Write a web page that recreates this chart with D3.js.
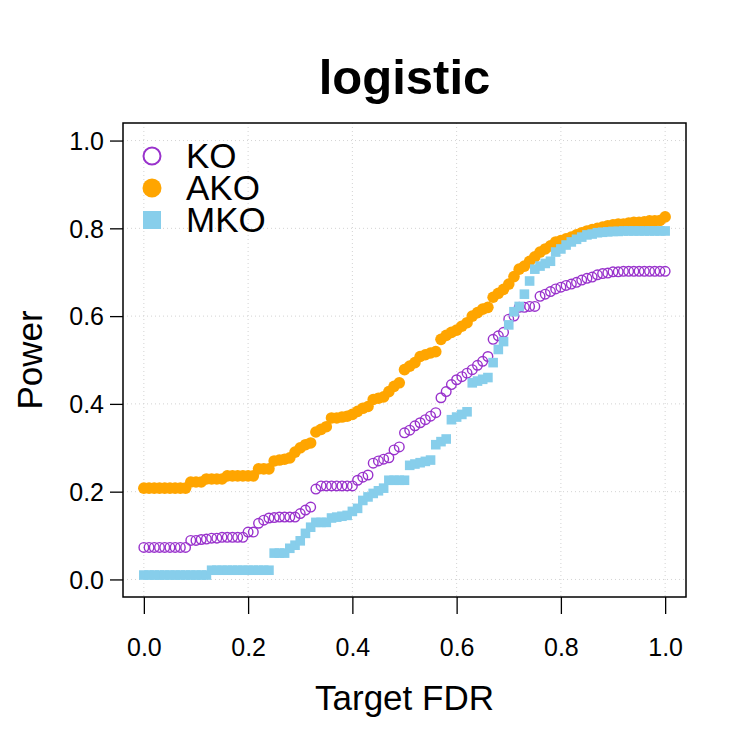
<!DOCTYPE html>
<html lang="en">
<head>
    <meta charset="UTF-8">
    <title>logistic</title>
    <script src="https://d3js.org/d3.v7.min.js"></script>
    <style>
        body{
            margin: 0;
            background-color: white;
        }
        text{
            font-family: "Liberation Sans", Arial, sans-serif;
            fill: black;
        }
        .grid line{
            stroke: lightgray;
            stroke-width: 1px;
            stroke-dasharray: 1,3;
        }
    </style>
</head>
<body>
<svg id="canvas" width="750" height="750"></svg>
<script>
    // target FDR from 0 to 1 in steps of 0.01
    let fdr = d3.range(101).map(function (i){return i/100});

    let ko = [0.073,0.073,0.073,0.073,0.073,0.073,0.073,0.073,0.073,0.089,
        0.089,0.091,0.092,0.094,0.094,0.096,0.096,0.096,0.096,0.096,
        0.108,0.108,0.128,0.135,0.140,0.141,0.142,0.142,0.142,0.142,
        0.150,0.158,0.165,0.206,0.213,0.213,0.213,0.213,0.213,0.213,
        0.213,0.226,0.233,0.238,0.265,0.270,0.274,0.277,0.295,0.302,
        0.334,0.340,0.350,0.357,0.364,0.372,0.380,0.414,0.428,0.444,
        0.455,0.462,0.470,0.478,0.488,0.497,0.508,0.547,0.555,0.563,
        0.593,0.600,0.620,0.620,0.622,0.622,0.645,0.650,0.656,0.662,
        0.666,0.670,0.673,0.677,0.682,0.686,0.689,0.694,0.697,0.698,
        0.701,0.701,0.702,0.702,0.702,0.702,0.702,0.702,0.702,0.702,
        0.702];

    let ako = [0.208,0.208,0.208,0.208,0.208,0.208,0.208,0.208,0.208,0.222,
        0.222,0.222,0.229,0.229,0.229,0.229,0.236,0.236,0.236,0.236,
        0.236,0.236,0.252,0.252,0.252,0.270,0.272,0.274,0.277,0.290,
        0.300,0.307,0.311,0.336,0.342,0.348,0.368,0.368,0.370,0.372,
        0.376,0.383,0.390,0.394,0.410,0.413,0.416,0.428,0.440,0.448,
        0.478,0.486,0.494,0.508,0.512,0.516,0.519,0.547,0.556,0.563,
        0.568,0.577,0.585,0.600,0.608,0.616,0.620,0.643,0.652,0.661,
        0.673,0.690,0.707,0.714,0.725,0.735,0.746,0.753,0.760,0.769,
        0.772,0.776,0.780,0.785,0.790,0.794,0.797,0.800,0.803,0.806,
        0.808,0.810,0.810,0.812,0.814,0.814,0.815,0.817,0.817,0.818,
        0.826];

    let mko = [0.010,0.010,0.010,0.010,0.010,0.010,0.010,0.010,0.010,0.010,
        0.010,0.010,0.010,0.021,0.021,0.021,0.021,0.021,0.021,0.021,
        0.021,0.021,0.021,0.021,0.021,0.060,0.060,0.060,0.071,0.078,
        0.088,0.105,0.119,0.130,0.130,0.130,0.140,0.142,0.144,0.146,
        0.155,0.162,0.180,0.188,0.196,0.202,0.208,0.226,0.226,0.226,
        0.226,0.260,0.263,0.266,0.269,0.272,0.307,0.314,0.320,0.364,
        0.370,0.376,0.382,0.448,0.452,0.456,0.460,0.494,0.524,0.542,
        0.580,0.610,0.622,0.650,0.680,0.707,0.714,0.720,0.725,0.746,
        0.753,0.762,0.769,0.775,0.780,0.785,0.787,0.790,0.791,0.792,
        0.793,0.793,0.794,0.794,0.794,0.794,0.794,0.794,0.794,0.794,
        0.794];

    let ticks = [0, 0.2, 0.4, 0.6, 0.8, 1.0];
    let seriesNames = ["KO", "AKO", "MKO"];
    let seriesColors = ["darkorchid", "orange", "skyblue"];

    let svg = d3.select('svg');
    let pLeft = 123, pRight = 686, pTop = 123, pBottom = 597;

    let x = d3.scaleLinear().domain([-0.04, 1.04]).range([pLeft, pRight]);
    let y = d3.scaleLinear().domain([-0.04, 1.04]).range([pBottom, pTop]);
    let fmt = d3.format(".1f");

    // dotted grid at the tick marks
    let grid = svg.append('g').attr("class", "grid");
    grid.selectAll('line.v').data(ticks).enter().append('line').attr("class", "v")
        .attr("x1", d => x(d)).attr("x2", d => x(d)).attr("y1", pTop).attr("y2", pBottom);
    grid.selectAll('line.h').data(ticks).enter().append('line').attr("class", "h")
        .attr("y1", d => y(d)).attr("y2", d => y(d)).attr("x1", pLeft).attr("x2", pRight);

    // axes
    let xAxis = svg.append('g').attr("transform", "translate(0," + pBottom + ")")
        .call(d3.axisBottom(x).tickValues(ticks).tickFormat(fmt).tickSize(17).tickPadding(24));
    let yAxis = svg.append('g').attr("transform", "translate(" + pLeft + ",0)")
        .call(d3.axisLeft(y).tickValues(ticks).tickFormat(fmt).tickSize(13).tickPadding(6));
    [xAxis, yAxis].forEach(function (a){
        a.select('.domain').remove();
        a.selectAll('line').attr("stroke", "black").attr("stroke-width", 1.3);
        a.selectAll('text').style("font-size", "25px").style("font-family", "'Liberation Sans', Arial, sans-serif");
    });
    yAxis.selectAll('text').attr("dy", "0.35em");

    // points: KO, then AKO, then MKO on top
    let pts = fdr.map(function (t, i){return {t: t, ko: ko[i], ako: ako[i], mko: mko[i]}});
    let plot = svg.append('g');
    plot.selectAll('circle.ko').data(pts).enter().append('circle').attr("class", "ko")
        .attr("cx", d => x(d.t)).attr("cy", d => y(d.ko)).attr("r", 4.8)
        .attr("fill", "none").attr("stroke", seriesColors[0]).attr("stroke-width", 1.4);
    plot.selectAll('circle.ako').data(pts).enter().append('circle').attr("class", "ako")
        .attr("cx", d => x(d.t)).attr("cy", d => y(d.ako)).attr("r", 5.8)
        .attr("fill", seriesColors[1]);
    plot.selectAll('rect.mko').data(pts).enter().append('rect').attr("class", "mko")
        .attr("x", d => x(d.t) - 4.8).attr("y", d => y(d.mko) - 4.8)
        .attr("width", 9.6).attr("height", 9.6).attr("fill", seriesColors[2]);

    // box round the plot
    svg.append('rect').attr("x", pLeft).attr("y", pTop).attr("width", pRight - pLeft).attr("height", pBottom - pTop)
        .attr("fill", "none").attr("stroke", "black").attr("stroke-width", 1.5);

    // legend
    let legend = svg.append('g');
    let rowY = [156, 188, 220];
    legend.append('circle').attr("cx", 152).attr("cy", rowY[0]).attr("r", 8.5)
        .attr("fill", "none").attr("stroke", seriesColors[0]).attr("stroke-width", 2);
    legend.append('circle').attr("cx", 152).attr("cy", rowY[1]).attr("r", 9.5)
        .attr("fill", seriesColors[1]);
    legend.append('rect').attr("x", 143).attr("y", rowY[2] - 9).attr("width", 18).attr("height", 18)
        .attr("fill", seriesColors[2]);
    legend.selectAll('text').data(seriesNames).enter().append('text')
        .attr("x", 186).attr("y", (d, i) => rowY[i] + 12)
        .style("font-size", "35px").text(d => d);

    // titles
    svg.append('text').attr("x", (pLeft + pRight) / 2).attr("y", 94).attr("text-anchor", "middle")
        .style("font-size", "49px").style("font-weight", "bold").text("logistic");
    svg.append('text').attr("x", (pLeft + pRight) / 2).attr("y", 710).attr("text-anchor", "middle")
        .style("font-size", "35px").text("Target FDR");
    svg.append('text').attr("transform", "translate(30," + ((pTop + pBottom) / 2) + ") rotate(-90)")
        .attr("text-anchor", "middle").attr("dy", "0.35em")
        .style("font-size", "35px").text("Power");
</script>
</body>
</html>
